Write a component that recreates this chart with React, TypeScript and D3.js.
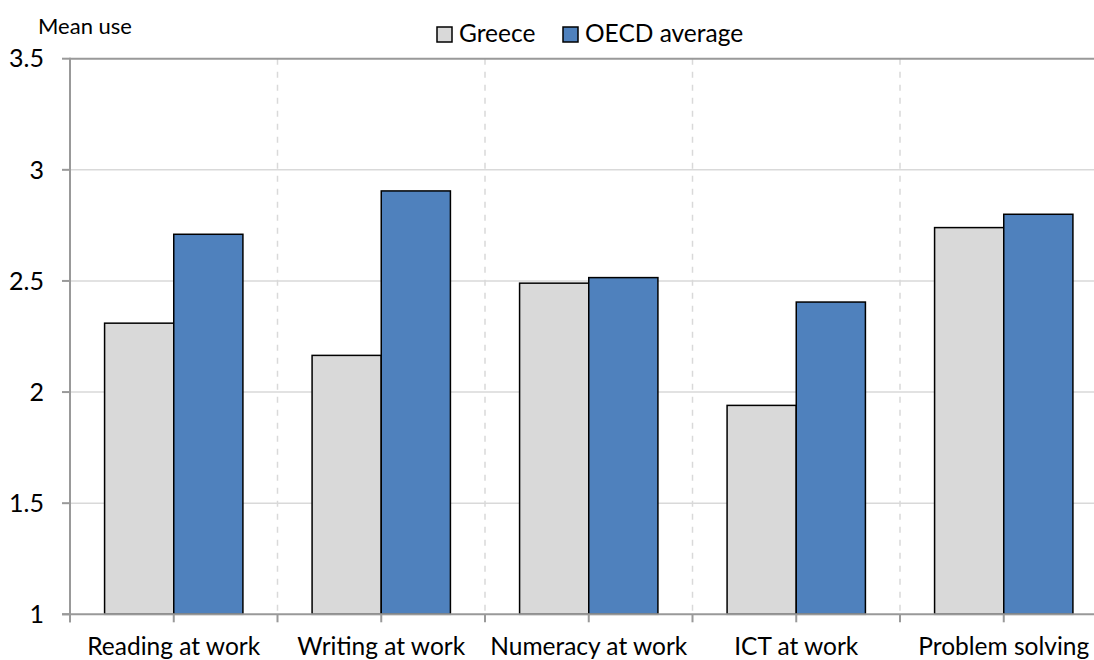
import React from "react";
import * as d3 from "d3";

const categories = ["Reading at work", "Writing at work", "Numeracy at work", "ICT at work", "Problem solving"];
const series = ["Greece", "OECD average"];
const greece = [2.31, 2.165, 2.49, 1.94, 2.74];
const oecd = [2.71, 2.905, 2.515, 2.405, 2.8];
const yTicks = [1, 1.5, 2, 2.5, 3, 3.5];
const colors = ["#d9d9d9", "#4f81bd"];

const W = 1094, H = 660;
const left = 70, right = 1107.5, top = 58.7, bottom = 614.3;
const font = "Lato, 'Open Sans', sans-serif";

export default function App() {
  const x = d3.scaleBand().domain(categories).range([left, right]).padding(0);
  const xs = d3.scaleBand().domain(series).range([0, x.bandwidth()]).paddingInner(0).paddingOuter(0.5);
  const y = d3.scaleLinear().domain([1, 3.5]).range([bottom, top]);
  const values = [greece, oecd];

  // ticks at category edges and centres
  const xTicks: number[] = [];
  categories.forEach(c => {
    const x0 = x(c) as number;
    xTicks.push(x0, x0 + x.bandwidth() / 2);
  });
  xTicks.push(right);

  return (
    <svg width={W} height={H} style={{ position: "absolute", left: 0, top: 0, background: "#fff" }} fontFamily={font}>
      {/* horizontal gridlines */}
      {yTicks.filter(t => t > 1 && t < 3.5).map(t => (
        <line key={"g" + t} x1={left} x2={right} y1={y(t)} y2={y(t)} stroke="#d9d9d9" strokeWidth={1.5} />
      ))}
      {/* vertical dashed separators */}
      {categories.slice(1).map(c => (
        <line key={"v" + c} x1={x(c)} x2={x(c)} y1={top} y2={bottom} stroke="#d9d9d9" strokeWidth={1.5} strokeDasharray="6,7" />
      ))}
      <line x1={left} x2={right} y1={y(3.5)} y2={y(3.5)} stroke="#999" strokeWidth={2} />

      {/* bars */}
      {categories.map((c, i) => (
        <g key={c} transform={`translate(${x(c)},0)`}>
          {series.map((s, j) => (
            <rect key={s} x={xs(s)} width={xs.bandwidth()} y={y(values[j][i])} height={bottom - y(values[j][i])}
              fill={colors[j]} stroke="#000" strokeWidth={1.5} />
          ))}
        </g>
      ))}

      {/* axes */}
      <line x1={left} x2={left} y1={top - 1} y2={bottom + 8} stroke="#999" strokeWidth={2} />
      <line x1={left - 8} x2={right} y1={bottom} y2={bottom} stroke="#999" strokeWidth={2} />
      {yTicks.map(t => (
        <g key={"t" + t}>
          <line x1={left - 8} x2={left} y1={y(t)} y2={y(t)} stroke="#999" strokeWidth={2} />
          <text x={44} y={y(t)} dy="0.35em" textAnchor="end" fontSize={25} fill="#000">{t}</text>
        </g>
      ))}
      {xTicks.map((t, i) => (
        <line key={"xt" + i} x1={t} x2={t} y1={bottom} y2={bottom + 8} stroke="#999" strokeWidth={2} />
      ))}
      {categories.map(c => (
        <text key={"l" + c} x={(x(c) as number) + x.bandwidth() / 2} y={655} textAnchor="middle" fontSize={24.5} fill="#000">{c}</text>
      ))}

      <text x={38} y={34} fontSize={22} fill="#000">Mean use</text>

      {/* legend */}
      {[{ sx: 437, tx: 459 }, { sx: 563, tx: 585 }].map((p, j) => (
        <g key={"lg" + j}>
          <rect x={p.sx} y={27} width={15} height={15} fill={colors[j]} stroke="#000" strokeWidth={1.5} />
          <text x={p.tx} y={42} fontSize={24.5} fill="#000">{series[j]}</text>
        </g>
      ))}
    </svg>
  );
}
